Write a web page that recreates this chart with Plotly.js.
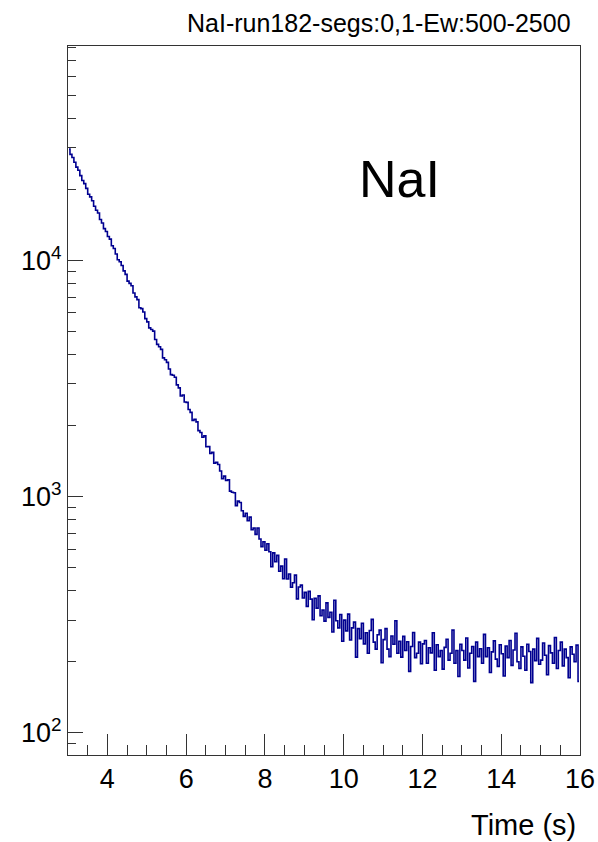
<!DOCTYPE html>
<html>
<head>
<meta charset="utf-8">
<script src="https://cdn.plot.ly/plotly-3.0.1.min.js"></script>
<style>html,body{margin:0;padding:0;background:#fff;}#chart{width:598px;height:842px;}</style>
</head>
<body>
<div id="chart"></div>
<script>
// Histogram: NaI counts vs time, bins of 0.05 s from 3 s to 16 s
const binStart = 3.0;
const binWidth = 0.05;
const counts = [
  29662, 28153, 27289, 26058, 24867, 24105, 22881, 21836, 21168, 20203,
  19093, 18606, 17913, 16978, 16322, 15891, 14907, 14408, 13647, 13270,
  12641, 12315, 11541, 11246, 10650, 10075, 9875, 9524, 9038, 8733,
  8180, 7998, 7818, 7287, 7016, 6827, 6308, 6253, 6050, 5674,
  5498, 5185, 5100, 5022, 4631, 4413, 4311, 4205, 3871, 3799,
  3702, 3472, 3287, 3268, 3202, 2974, 2889, 2668, 2693, 2516,
  2507, 2340, 2275, 2104, 2128, 2073, 1904, 1869, 1784, 1808,
  1626, 1629, 1525, 1540, 1387, 1398, 1369, 1284, 1190, 1221,
  1171, 1177, 1055, 1043, 1039, 916, 957, 945, 871, 825,
  850, 791, 819, 724, 737, 692, 737, 662, 614, 644,
  593, 632, 584, 505, 578, 530, 564, 483, 508, 449,
  544, 448, 470, 413, 432, 465, 369, 414, 422, 372,
  393, 343, 397, 368, 301, 371, 337, 380, 313, 331,
  297, 355, 308, 324, 267, 364, 298, 278, 317, 244,
  300, 270, 318, 247, 278, 294, 209, 276, 250, 291,
  238, 265, 217, 271, 302, 242, 226, 260, 272, 198,
  248, 276, 226, 210, 257, 237, 298, 217, 244, 209,
  256, 223, 243, 182, 232, 266, 208, 217, 242, 196,
  238, 246, 197, 229, 218, 265, 184, 236, 210, 223,
  186, 230, 249, 203, 217, 272, 197, 223, 173, 237,
  223, 203, 252, 188, 217, 232, 165, 242, 210, 227,
  197, 261, 210, 229, 180, 220, 245, 205, 191, 236,
  216, 174, 233, 208, 246, 193, 224, 264, 200, 187,
  231, 211, 184, 237, 221, 163, 226, 202, 251, 195,
  203, 240, 213, 176, 234, 218, 197, 253, 187, 223,
  242, 192, 226, 208, 171, 231, 215, 200, 235, 165
];
const xTickVals = [4, 6, 8, 10, 12, 14, 16];
const yTickVals = [100, 1000, 10000];
const yTickText = ['10<sup>2</sup>', '10<sup>3</sup>', '10<sup>4</sup>'];
const yMinorVals = [90, 200, 300, 400, 500, 600, 700, 800, 900,
  2000, 3000, 4000, 5000, 6000, 7000, 8000, 9000,
  20000, 30000, 40000, 50000, 60000, 70000, 80000];
const histTitle = 'NaI-run182-segs:0,1-Ew:500-2500';
const xTitle = 'Time (s)';
const label = 'NaI';

const binCenters = counts.map((_, i) => binStart + (i + 0.5) * binWidth);

const trace = {
  x: binCenters,
  y: counts,
  type: 'scatter',
  mode: 'lines',
  line: {color: '#000090', width: 1.6, shape: 'hvh'},
  hoverinfo: 'skip'
};

const axisColor = '#333333';
const layout = {
  width: 598,
  height: 842,
  margin: {l: 68, r: 18, t: 46, b: 87},
  paper_bgcolor: '#ffffff',
  plot_bgcolor: '#ffffff',
  showlegend: false,
  font: {family: 'Liberation Sans, Arial, sans-serif', color: '#000000'},
  xaxis: {
    range: [3, 16],
    tickmode: 'array',
    tickvals: xTickVals,
    ticks: 'inside',
    ticklen: 21,
    tickwidth: 1,
    tickcolor: axisColor,
    showline: true,
    linecolor: axisColor,
    linewidth: 1,
    mirror: true,
    showgrid: false,
    zeroline: false,
    tickfont: {size: 27, color: '#000'},
    minor: {tick0: 3, dtick: 0.5, ticks: 'inside', ticklen: 10, tickwidth: 1, tickcolor: axisColor, showgrid: false}
  },
  yaxis: {
    type: 'log',
    range: [Math.log10(80.5), Math.log10(81000)],
    tickmode: 'array',
    tickvals: yTickVals,
    ticktext: yTickText,
    ticks: 'inside',
    ticklen: 15,
    tickwidth: 1,
    tickcolor: axisColor,
    showline: true,
    linecolor: axisColor,
    linewidth: 1,
    mirror: true,
    showgrid: false,
    zeroline: false,
    tickfont: {size: 27, color: '#000'},
    minor: {tickmode: 'array', tickvals: yMinorVals, ticks: 'inside', ticklen: 8, tickwidth: 1, tickcolor: axisColor, showgrid: false}
  },
  annotations: [
    {text: histTitle, xref: 'paper', yref: 'paper', x: 0.986, y: 1.0324, xanchor: 'right', yanchor: 'middle',
     showarrow: false, font: {size: 25, color: '#000'}},
    {text: label, xref: 'paper', yref: 'paper', x: 0.648, y: 0.812, xanchor: 'center', yanchor: 'middle',
     showarrow: false, font: {size: 52, color: '#000'}},
    {text: xTitle, xref: 'paper', yref: 'paper', x: 0.996, y: -0.0987, xanchor: 'right', yanchor: 'middle',
     showarrow: false, font: {size: 29, color: '#000'}}
  ]
};

Plotly.newPlot('chart', [trace], layout, {displayModeBar: false, staticPlot: true});
</script>
</body>
</html>
